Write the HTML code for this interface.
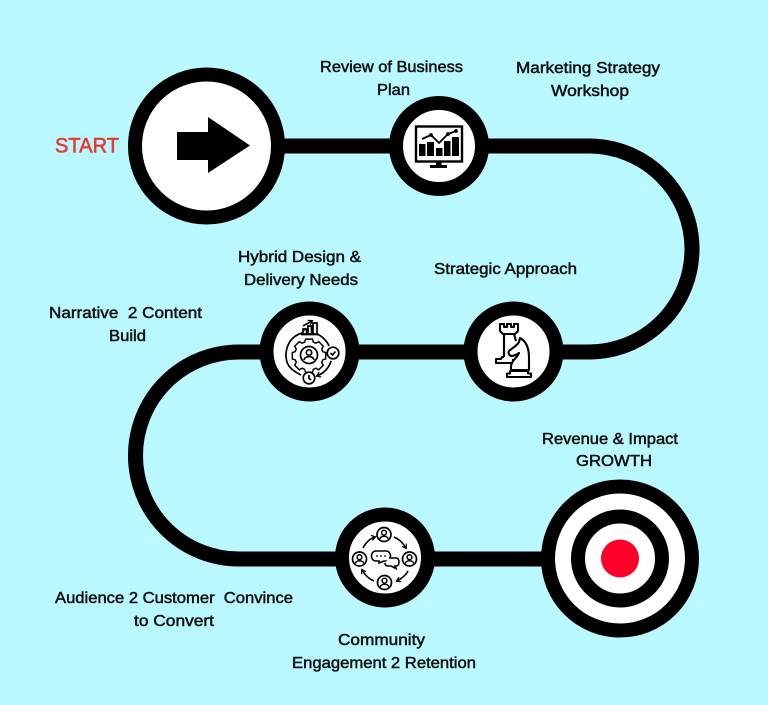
<!DOCTYPE html>
<html><head><meta charset="utf-8"><title>Growth roadmap</title>
<style>
html,body{margin:0;padding:0;background:#b9f8ff}
svg{display:block}
text{font-family:"Liberation Sans",sans-serif;font-size:16px;fill:#111;stroke:#111;stroke-width:.5;white-space:pre}
</style></head><body>
<svg width="768" height="705" viewBox="0 0 768 705" xmlns="http://www.w3.org/2000/svg">
<defs>
<marker id="a" markerWidth="6" markerHeight="6" refX="4" refY="3" orient="auto" markerUnits="userSpaceOnUse"><path d="M.5 .4L4.500 3L.5 5.600" fill="none" stroke="#000" stroke-width="1.300"/></marker>
<g id="p"><circle r="7" fill="#fff" stroke="#000" stroke-width="1.700"/><circle cy="-1.800" r="2.400" fill="none" stroke="#000" stroke-width="1.500"/><path d="M-4.200 4.500C-3.900 .9 3.900 .9 4.200 4.500" fill="none" stroke="#000" stroke-width="1.500"/></g>
</defs>
<rect width="768" height="705" fill="#b9f8ff"/>
<path d="M280 146H589A103 103 0 0 1 589 352H239A103.500 103.500 0 0 0 239 559H550" fill="none" stroke="#000" stroke-width="15"/>

<circle cx="206.500" cy="146" r="71.500" fill="#fff" stroke="#000" stroke-width="14"/>
<path d="M177 132H208V117L250 145.500L208 173V160H177Z" fill="#000"/>

<circle cx="439" cy="146" r="43" fill="#fff" stroke="#000" stroke-width="14"/>
<g>
<rect x="416" y="126.500" width="46" height="35" fill="none" stroke="#000" stroke-width="2.400"/>
<path d="M419 144h6.500v12h-6.500zM427 142h7v14h-7zM436 148h6.500v8h-6.500zM444 141h6.500v15h-6.500zM452 137h7v19h-7z" fill="#000"/>
<path d="M422 139L431 135L439 143L448 134L456 131" fill="none" stroke="#000" stroke-width="1.800"/>
<circle cx="431" cy="135" r="1.900"/><circle cx="448" cy="134" r="1.900"/><circle cx="456" cy="131" r="1.900"/>
<path d="M436 161h5.500v5h-5.500zM430 165h17v3h-17z" fill="#000"/>
</g>

<circle cx="309.500" cy="351.500" r="43" fill="#fff" stroke="#000" stroke-width="14"/>
<g fill="none" stroke="#000" stroke-width="1.700">
<path d="M305 342h8l1 3.500 3 1.300 3.300-1.800 5.300 5.300-1.800 3.300 1.300 3 3.300 1v7.500l-3.300 1-1.300 3 1.800 3.300-5.300 5.300-3.300-1.800-3 1.300-1 3.300h-8l-1-3.300-3-1.300-3.300 1.800-5.300-5.300 1.800-3.300-1.300-3-3.300-1v-7.500l3.300-1 1.300-3-1.800-3.300 5.300-5.300 3.300 1.800 3-1.300z" transform="translate(309 355) scale(.86) translate(-309 -360.500)"/>
<circle cx="309" cy="355" r="8.500"/>
<circle cx="309" cy="352.500" r="2.700"/>
<path d="M304 360c.5-4.500 9.500-4.500 10 0"/>
<path d="M302 333C291 336 286 346 286 355S289 369 301 375" marker-start="url(#a)"/>
<path d="M317 334C322 336 327 341 329 346"/>
<path d="M331 361C329 368 324 373 317 376" marker-end="url(#a)"/>
<circle cx="333" cy="353" r="5.800"/><path d="M330.500 353l2 2 3-3.500"/>
<circle cx="309" cy="378" r="5.800"/><path d="M309 375v3.500l2 1.500"/>
<path d="M303 334v-5h3.500v5zM308 334v-8h3.500v8zM313 334v-11h4v11zM301 334.500h18"/>
<path d="M303 326L312 321" marker-end="url(#a)"/>
</g>

<circle cx="513.500" cy="351.500" r="43" fill="#fff" stroke="#000" stroke-width="14"/>
<g fill="#fff" stroke="#000" stroke-width="2.100" stroke-linejoin="round">
<path d="M500 324h4v3h3v-3h4v3h3v-3h4v7l-3 3h-12l-3-3z"/>
<path d="M504 334h10l2 7M504 334v23"/>
<path d="M504 357h-2l-1 2h-5v4h17v-4"/>
<path d="M520 338c6 3 9 9 9 20v12h-18v-3c0-6 6-9 8-14-3 2-6 3-8 3-2-1-3-3-2-5 3-3 8-5 10-9z"/>
<path d="M510 371h18v2.500h3v3.500h-24v-3.500h3z"/>
</g>

<circle cx="385" cy="557.500" r="43" fill="#fff" stroke="#000" stroke-width="14"/>
<g>
<use href="#p" x="384" y="534.500"/><use href="#p" x="409.500" y="559"/><use href="#p" x="384.500" y="582.500"/><use href="#p" x="359.500" y="559"/>
<g fill="none" stroke="#000" stroke-width="1.600">
<path d="M363 548C366 542 371 538 375 537" marker-end="url(#a)"/>
<path d="M394 537C399 539 403 543 406 548" marker-end="url(#a)"/>
<path d="M408 571C406 575 401 579 397 581" marker-end="url(#a)"/>
<path d="M374 581C369 579 365 575 362 570" marker-end="url(#a)"/>
<path d="M376 551h10c6 0 6 10 0 10h-2l-5 2 0-2h-3c-6 0-6-10 0-10z" fill="#fff"/>
<path d="M389 558h7c4 0 4 8 0 8h-1l1 2.500-5-2.500h-3c-2 0-3-1-3-3" fill="#fff"/>
</g>
<circle cx="377" cy="556" r=".9"/><circle cx="381" cy="556" r=".9"/><circle cx="385" cy="556" r=".9"/>
</g>

<circle cx="620" cy="558.500" r="72" fill="#fff" stroke="#000" stroke-width="14"/>
<circle cx="620" cy="558.500" r="42" fill="#fff" stroke="#000" stroke-width="14"/>
<circle cx="620" cy="558.500" r="19" fill="#ff0028"/>

<text x="55" y="152.500" textLength="64" lengthAdjust="spacingAndGlyphs" style="font-size:21px;fill:#e9392f;stroke:#e9392f;stroke-width:.6">START</text>
<text x="320" y="72" textLength="143" lengthAdjust="spacingAndGlyphs">Review of Business</text>
<text x="377" y="95" textLength="33" lengthAdjust="spacingAndGlyphs">Plan</text>
<text x="516" y="73" textLength="144" lengthAdjust="spacingAndGlyphs">Marketing Strategy</text>
<text x="551" y="96" textLength="78" lengthAdjust="spacingAndGlyphs">Workshop</text>
<text x="238" y="262" textLength="123" lengthAdjust="spacingAndGlyphs">Hybrid Design &amp;</text>
<text x="244" y="285" textLength="114" lengthAdjust="spacingAndGlyphs">Delivery Needs</text>
<text x="434" y="274" textLength="143" lengthAdjust="spacingAndGlyphs">Strategic Approach</text>
<text x="49" y="318" textLength="153" lengthAdjust="spacingAndGlyphs">Narrative  2 Content</text>
<text x="109" y="341" textLength="37" lengthAdjust="spacingAndGlyphs">Build</text>
<text x="542" y="444" textLength="136" lengthAdjust="spacingAndGlyphs">Revenue &amp; Impact</text>
<text x="576" y="466" textLength="76" lengthAdjust="spacingAndGlyphs">GROWTH</text>
<text x="55" y="603" textLength="238" lengthAdjust="spacingAndGlyphs">Audience 2 Customer  Convince</text>
<text x="134" y="626" textLength="80" lengthAdjust="spacingAndGlyphs">to Convert</text>
<text x="338" y="645" textLength="87" lengthAdjust="spacingAndGlyphs">Community</text>
<text x="292" y="668" textLength="184" lengthAdjust="spacingAndGlyphs">Engagement 2 Retention</text>
</svg>
</body></html>
